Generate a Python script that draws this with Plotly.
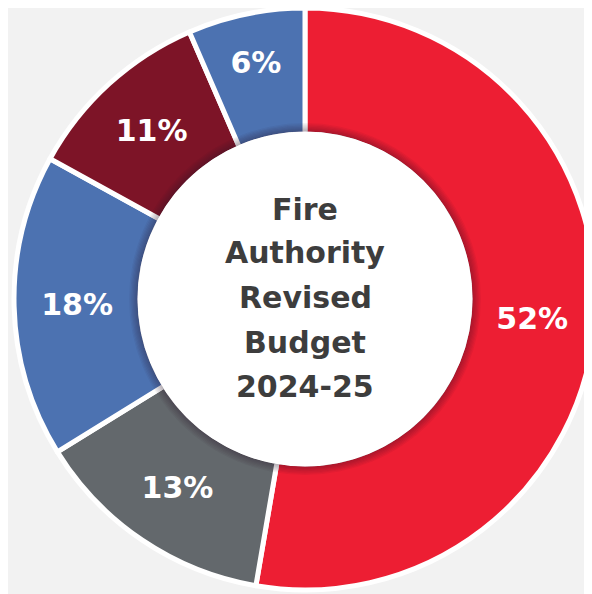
import plotly.graph_objects as go

# ---- data ----
categories = ["Segment A", "Segment B", "Segment C", "Segment D", "Segment E"]
shares = [52.7, 13.5, 16.8, 10.5, 6.5]          # slice sizes
labels = ["52%", "13%", "18%", "11%", "6%"]      # printed labels
colors = ["#ED1E33", "#63686C", "#4C72B1", "#7D1427", "#4C72B1"]
center_lines = ["Fire", "Authority", "Revised", "Budget", "2024-25"]

OFF = 8                         # page body margin
W, H = 592, 594
R = 291                         # plotly pie radius in px
CX, CY = 305, 299               # desired centre on the page
ML = CX - OFF - R
MT = CY - OFF - R
PW = PH = 2 * R
MR = W - ML - PW
MB = H - MT - PH
LW = 5                          # white border width
RI = 167.5                      # inner coloured radius
HOLE = (RI - LW / 2) / R

fig = go.Figure()

fig.add_trace(go.Pie(
    labels=categories, values=shares, text=labels,
    sort=False, direction="clockwise", rotation=0,
    hole=HOLE,
    marker=dict(colors=colors, line=dict(color="white", width=LW)),
    textinfo="text", textposition="inside", insidetextorientation="horizontal",
    textfont=dict(family="DejaVu Sans", size=30, color="white", weight=700),
    showlegend=False, hoverinfo="skip",
    domain=dict(x=[0, 1], y=[0, 1]),
))

# white centre disc
fig.add_trace(go.Pie(
    values=[1], sort=False,
    marker=dict(colors=["white"], line=dict(width=0)),
    textinfo="none", showlegend=False, hoverinfo="skip",
    domain=dict(x=[0.5 - RI / PW, 0.5 + RI / PW], y=[0.5 - RI / PH, 0.5 + RI / PH]),
))

# inner shadow: stacked translucent rings just outside the hole
for k in range(1, 8):
    rho = RI + k * 1.2
    fig.add_trace(go.Pie(
        values=[1], sort=False, hole=RI / rho,
        marker=dict(colors=["rgba(40,20,40,0.05)"], line=dict(width=0)),
        textinfo="none", showlegend=False, hoverinfo="skip",
        domain=dict(x=[0.5 - rho / PW, 0.5 + rho / PW], y=[0.5 - rho / PH, 0.5 + rho / PH]),
    ))

# centre title, one annotation per line
line_y_px = [209, 253, 297, 342, 386]
for txt, ypx in zip(center_lines, line_y_px):
    fig.add_annotation(
        text=txt, x=0.5, y=(H - MB - (ypx - OFF)) / PH,
        xref="paper", yref="paper", showarrow=False,
        xanchor="center", yanchor="middle",
        font=dict(family="DejaVu Sans", size=30, color="#3D3D3D", weight=700),
    )

fig.update_layout(
    width=W, height=H,
    margin=dict(l=ML, r=MR, t=MT, b=MB),
    paper_bgcolor="#F2F2F2", plot_bgcolor="#F2F2F2",
)

fig.write_html("out.html")
